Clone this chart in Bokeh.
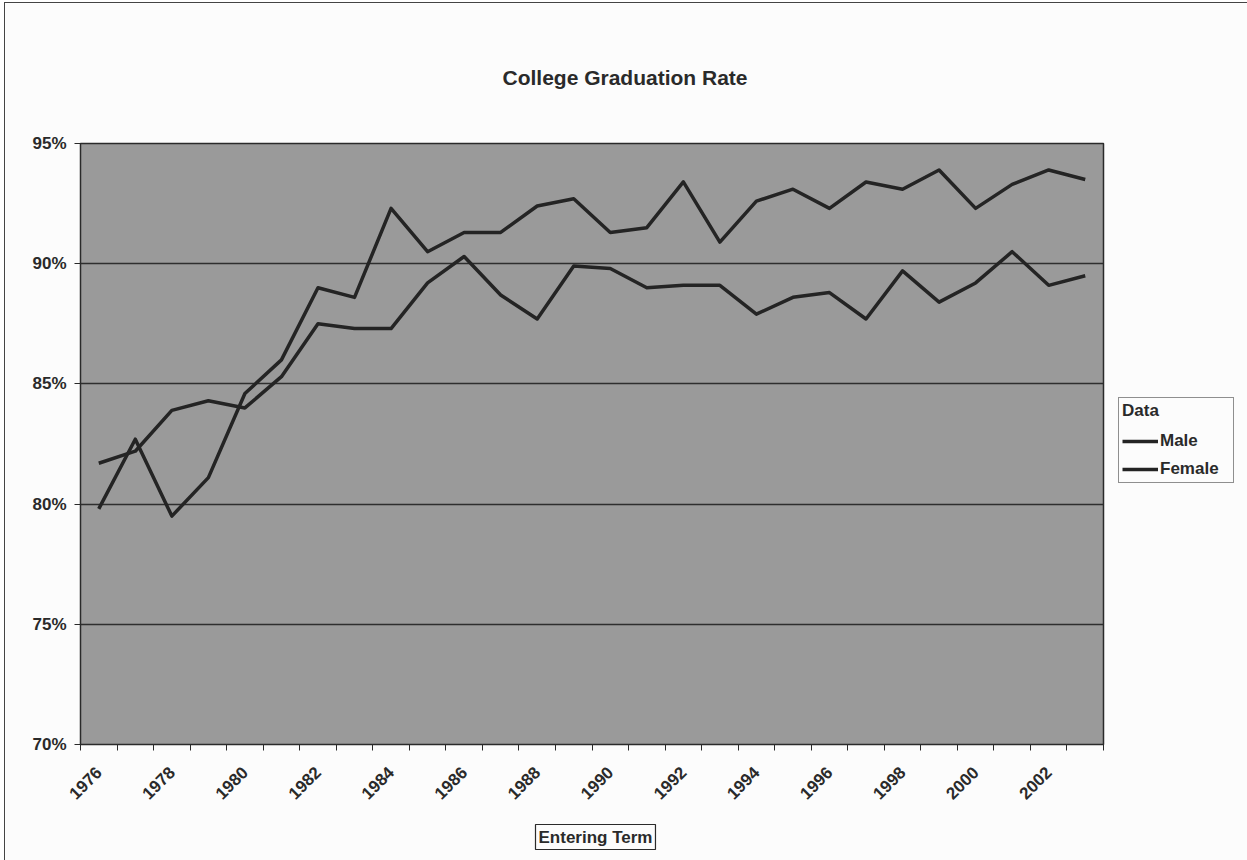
from bokeh.plotting import figure
from bokeh.models import (FixedTicker, PrintfTickFormatter, Legend, LegendItem,
                          Range1d, Title)
from bokeh.embed import file_html
from bokeh.resources import INLINE

# ---- data -------------------------------------------------------------
years = list(range(1976, 2004))
male = [81.7, 82.2, 83.9, 84.3, 84.0, 85.3, 87.5, 87.3, 87.3, 89.2,
        90.3, 88.7, 87.7, 89.9, 89.8, 89.0, 89.1, 89.1, 87.9, 88.6,
        88.8, 87.7, 89.7, 88.4, 89.2, 90.5, 89.1, 89.5]
female = [79.8, 82.7, 79.5, 81.1, 84.6, 86.0, 89.0, 88.6, 92.3, 90.5,
          91.3, 91.3, 92.4, 92.7, 91.3, 91.5, 93.4, 90.9, 92.6, 93.1,
          92.3, 93.4, 93.1, 93.9, 92.3, 93.3, 93.9, 93.5]
y_ticks = [70, 75, 80, 85, 90, 95]
x_label_years = years[::2]
title_text = "College Graduation Rate"
x_title = "Entering Term"
legend_title = "Data"

FONT = "Liberation Sans"
LINE_COL = "#242424"
TXT = "#2a2a2a"

FL, FR, FT, FB = 75, 140, 140, 116
FW, FH = 1023, 601

p = figure(width=FL + FW + FR, height=FT + FH + FB,
           frame_width=FW, frame_height=FH,
           x_range=Range1d(years[0] - 0.5, years[-1] + 0.5),
           y_range=Range1d(y_ticks[0], y_ticks[-1]),
           output_backend="svg", toolbar_location=None,
           min_border_left=FL, min_border_right=FR,
           min_border_top=FT, min_border_bottom=FB)

p.background_fill_color = "#9a9a9a"
p.border_fill_color = "#fcfcfc"
p.outline_line_color = "#2a2a2a"
p.outline_line_width = 1.5
p.styles = {"border-left": "1px solid #444444",
            "border-top": "1px solid #444444",
            "border-right": "1px solid #444444",
            "margin-left": "4px", "margin-top": "2px"}

# title (above the frame)
p.title = Title(text=title_text, align="left", offset=422, standoff=110,
                text_font=FONT, text_font_size="21px", text_font_style="bold",
                text_color=TXT)

# grid
p.xgrid.grid_line_color = None
p.ygrid.ticker = FixedTicker(ticks=y_ticks)
p.ygrid.grid_line_color = "#2e2e2e"
p.ygrid.grid_line_width = 1.3

# y axis
p.yaxis.ticker = FixedTicker(ticks=y_ticks)
p.yaxis.formatter = PrintfTickFormatter(format="%d%%")
p.yaxis.major_tick_out = 6
p.yaxis.major_tick_in = 0
p.yaxis.minor_tick_line_color = None
p.yaxis.axis_line_color = TXT
p.yaxis.major_tick_line_color = TXT
p.yaxis.major_label_standoff = 8
p.yaxis.major_label_text_font = FONT
p.yaxis.major_label_text_font_size = "17px"
p.yaxis.major_label_text_font_style = "bold"
p.yaxis.major_label_text_color = TXT

# x axis
p.xaxis.ticker = FixedTicker(ticks=x_label_years,
                             minor_ticks=[y - 0.5 for y in years] + [years[-1] + 0.5])
p.xaxis.major_label_overrides = {y: str(y) for y in x_label_years}
p.xaxis.major_tick_line_color = None
p.xaxis.minor_tick_out = 6
p.xaxis.minor_tick_in = 0
p.xaxis.minor_tick_line_color = TXT
p.xaxis.axis_line_color = TXT
p.xaxis.major_label_orientation = 0.785398
p.xaxis.major_label_standoff = 19
p.xaxis.major_label_text_font = FONT
p.xaxis.major_label_text_font_size = "17px"
p.xaxis.major_label_text_font_style = "bold"
p.xaxis.major_label_text_color = TXT

# x-axis title in a box (below the axis)
p.add_layout(Title(text=x_title, align="left", offset=455, standoff=34,
                   vertical_align="top",
                   text_font=FONT, text_font_size="17px", text_color=TXT,
                   border_line_color=TXT, border_line_width=1.2,
                   background_fill_color="#fcfcfc", padding=3), "below")

# lines
r_male = p.line(years, male, line_width=3.5, line_color=LINE_COL, line_join="round")
r_female = p.line(years, female, line_width=3.5, line_color=LINE_COL, line_join="round")

# legend (right side panel)
legend = Legend(items=[LegendItem(label="Male", renderers=[r_male]),
                       LegendItem(label="Female", renderers=[r_female])],
                location=(15, 261), title=legend_title)
legend.border_line_color = "#222222"
legend.border_line_width = 1.5
legend.background_fill_color = "#fcfcfc"
legend.background_fill_alpha = 1.0
legend.label_text_font = FONT
legend.label_text_font_size = "17px"
legend.label_text_font_style = "bold"
legend.label_text_color = TXT
legend.title_text_font = FONT
legend.title_text_font_size = "17px"
legend.title_text_font_style = "bold"
legend.title_text_color = TXT
legend.title_standoff = 10
legend.glyph_width = 36
legend.glyph_height = 20
legend.label_standoff = 2
legend.label_height = 20
legend.label_width = 70
legend.spacing = 8
legend.padding = 3
legend.margin = 0
p.add_layout(legend, "right")

open("out.html", "w").write(file_html(p, INLINE))
